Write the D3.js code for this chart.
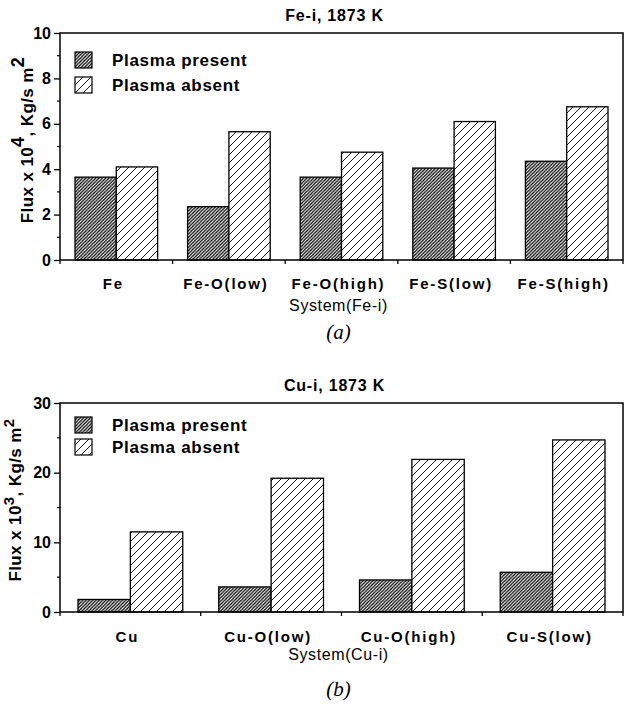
<!DOCTYPE html>
<html>
<head>
<meta charset="utf-8">
<script src="https://cdn.jsdelivr.net/npm/d3@7"></script>
<style>
  body { margin: 0; background: #fff; }
  svg { font-family: "Liberation Sans", Arial, sans-serif; }
</style>
</head>
<body>
<svg id="chart" width="624" height="709"></svg>
<script>
// data
const feSystems = ["Fe", "Fe-O(low)", "Fe-O(high)", "Fe-S(low)", "Fe-S(high)"]
const fePresent = [3.65, 2.35, 3.65, 4.05, 4.35]
const feAbsent = [4.1, 5.65, 4.75, 6.1, 6.75]
const feTicks = [0, 2, 4, 6, 8, 10]

const cuSystems = ["Cu", "Cu-O(low)", "Cu-O(high)", "Cu-S(low)"]
const cuPresent = [1.8, 3.6, 4.6, 5.7]
const cuAbsent = [11.5, 19.2, 21.9, 24.7]
const cuTicks = [0, 10, 20, 30]

const seriesNames = ["Plasma present", "Plasma absent"]

const svg = d3.select("#chart")

// hatch patterns, "/" lines drawn inside a square tile
function hatch(id, s, w) {
  const p = defs.append("pattern").attr("id", id).attr("patternUnits", "userSpaceOnUse")
    .attr("width", s).attr("height", s)
  p.append("rect").attr("width", s).attr("height", s).attr("fill", "#fff")
  p.append("path")
    .attr("d", `M0,${s} L${s},0 M${-s / 4},${s / 4} L${s / 4},${-s / 4} M${s * 3 / 4},${s * 5 / 4} L${s * 5 / 4},${s * 3 / 4}`)
    .attr("stroke", "#000").attr("stroke-width", w)
}
const defs = svg.append("defs")
hatch("dense", 3.3, 1.3)
hatch("sparse", 8, 0.9)

const fills = ["url(#dense)", "url(#sparse)"]

function drawPanel(o) {
  const { top, bottom, left, right, cats, present, absent, ymax, ticks, minor, title, exp, xTitle, tag, pad, legendY, legendGap } = o
  const g = svg.append("g")

  const x = d3.scaleBand().domain(cats).range([left, right]).paddingInner(0).paddingOuter(0)
  const y = d3.scaleLinear().domain([0, ymax]).range([bottom, top])
  const inner = d3.scaleBand().domain([0, 1]).range([0, x.bandwidth() - 2 * pad])

  // bars
  cats.forEach((c, i) => {
    [present[i], absent[i]].forEach((v, k) => {
      g.append("rect")
        .attr("x", x(c) + pad + inner(k))
        .attr("y", y(v))
        .attr("width", inner.bandwidth())
        .attr("height", y(0) - y(v))
        .attr("fill", fills[k])
        .attr("stroke", "#000")
        .attr("stroke-width", 1.3)
    })
  })

  // frame
  g.append("rect").attr("x", left).attr("y", top).attr("width", right - left).attr("height", bottom - top)
    .attr("fill", "none").attr("stroke", "#000").attr("stroke-width", 1.5)

  // y axis
  const yAxis = d3.axisLeft(y).tickValues(ticks).tickSize(6).tickPadding(3).tickFormat(d3.format("d"))
  const ya = g.append("g").attr("transform", `translate(${left},0)`).call(yAxis)
  ya.select(".domain").remove()
  ya.selectAll("text").attr("font-size", 16).attr("font-weight", "bold").attr("fill", "#000")
  ya.selectAll("line").attr("stroke-width", 1.3)
  g.selectAll(".minor").data(minor).enter().append("line")
    .attr("x1", left - 3).attr("x2", left).attr("y1", d => y(d)).attr("y2", d => y(d))
    .attr("stroke", "#000").attr("stroke-width", 1.2)

  // x axis ticks at band edges
  const edges = cats.map(c => x(c)).concat([right])
  g.selectAll(".xt").data(edges).enter().append("line")
    .attr("x1", d => d).attr("x2", d => d).attr("y1", bottom).attr("y2", bottom + 4)
    .attr("stroke", "#000").attr("stroke-width", 1.3)
  g.selectAll(".xl").data(cats).enter().append("text")
    .attr("x", d => x(d) + x.bandwidth() / 2 - 3).attr("y", bottom + o.labDy)
    .attr("text-anchor", "middle").attr("font-size", 15).attr("letter-spacing", 1.8)
    .attr("font-weight", "bold").text(d => d)

  g.append("text").attr("x", (left + right) / 2 - 3).attr("y", bottom + o.sysDy)
    .attr("text-anchor", "middle").attr("font-size", 16).attr("letter-spacing", 0.6).text(xTitle)

  g.append("text").attr("x", (left + right) / 2 - 7).attr("y", top - 12)
    .attr("text-anchor", "middle").attr("font-size", 16).attr("font-weight", "bold")
    .attr("letter-spacing", 0.8).text(title)

  g.append("text").attr("x", (left + right) / 2 - 3).attr("y", bottom + o.tagDy)
    .attr("text-anchor", "middle").attr("font-size", 21).attr("font-style", "italic")
    .attr("font-family", "Liberation Serif, serif").text(tag)

  // y title
  const yt = g.append("text")
    .attr("transform", `translate(${o.yTitleX},${o.yTitleY}) rotate(-90)`)
    .attr("text-anchor", "middle").attr("font-size", 17).attr("font-weight", "bold")
    .attr("letter-spacing", 0.4)
  yt.append("tspan").text("Flux x 10")
  yt.append("tspan").attr("dy", -o.supDy).attr("font-size", o.supSize).text(exp)
  yt.append("tspan").attr("dy", o.supDy).text(", Kg/s m")
  yt.append("tspan").attr("dy", -o.supDy).attr("font-size", o.supSize).text("2")

  // legend
  seriesNames.forEach((s, k) => {
    const ly = legendY + k * legendGap
    g.append("rect").attr("x", left + 15).attr("y", ly - 14).attr("width", 17).attr("height", 16)
      .attr("fill", fills[k]).attr("stroke", "#000").attr("stroke-width", 1.2)
    g.append("text").attr("x", left + 52).attr("y", ly).attr("font-size", 17).attr("letter-spacing", 0.7)
      .attr("font-weight", "bold").text(s)
  })
}

drawPanel({
  top: 33, bottom: 260, left: 60, right: 623, cats: feSystems, present: fePresent, absent: feAbsent,
  ymax: 10, ticks: feTicks, minor: [1, 3, 5, 7, 9], title: "Fe-i, 1873 K", exp: "4",
  xTitle: "System(Fe-i)", tag: "(a)", pad: 15, legendY: 66, legendGap: 25,
  yTitleX: 33, yTitleY: 140, supDy: 9, supSize: 18, labDy: 29, sysDy: 51, tagDy: 79
})

drawPanel({
  top: 403, bottom: 612, left: 60, right: 623, cats: cuSystems, present: cuPresent, absent: cuAbsent,
  ymax: 30, ticks: cuTicks, minor: [5, 15, 25], title: "Cu-i, 1873 K", exp: "3",
  xTitle: "System(Cu-i)", tag: "(b)", pad: 18, legendY: 431, legendGap: 22,
  yTitleX: 21, yTitleY: 500, supDy: 7, supSize: 15, labDy: 30, sysDy: 48, tagDy: 84
})
</script>
</body>
</html>
